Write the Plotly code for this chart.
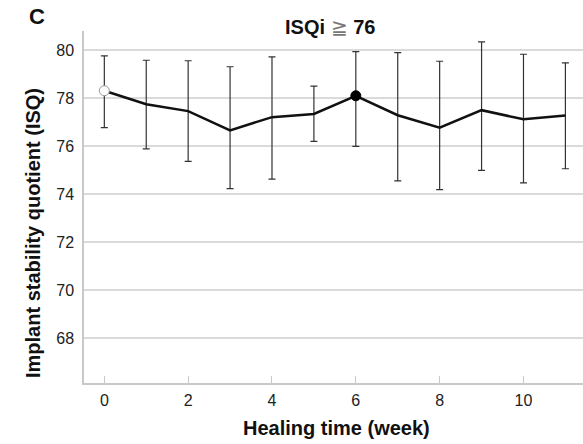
import plotly.graph_objects as go

weeks = [0, 1, 2, 3, 4, 5, 6, 7, 8, 9, 10, 11]
isq_mean = [78.31, 77.75, 77.46, 76.66, 77.21, 77.34, 78.10, 77.29, 76.77, 77.50, 77.12, 77.28]
isq_upper = [79.76, 79.58, 79.56, 79.31, 79.72, 78.50, 79.94, 79.90, 79.54, 80.35, 79.83, 79.47]
isq_lower = [76.77, 75.89, 75.37, 74.23, 74.63, 76.20, 75.99, 74.55, 74.19, 74.99, 74.47, 75.06]
y_ticks = [68, 70, 72, 74, 76, 78, 80]
x_ticks = [0, 2, 4, 6, 8, 10]

err_plus = [u - m for u, m in zip(isq_upper, isq_mean)]
err_minus = [m - l for m, l in zip(isq_mean, isq_lower)]

FONT = "Liberation Sans, Arial, sans-serif"

W, H = 583, 444
pl, pr, pt, pb = 84, 0, 31, 61
pw, ph = W - pl - pr, H - pt - pb

def px(xp):
    return (xp - pl) / pw

def py(yp):
    return (H - pb - yp) / ph

fig = go.Figure()
fig.add_trace(go.Scatter(
    x=weeks, y=isq_mean, mode="lines",
    line=dict(color="#111111", width=2.5),
    error_y=dict(type="data", symmetric=False, array=err_plus, arrayminus=err_minus,
                 color="#333333", thickness=1.2, width=3.5),
    showlegend=False, hoverinfo="skip"))
fig.add_trace(go.Scatter(
    x=[weeks[0]], y=[isq_mean[0]], mode="markers",
    marker=dict(size=10, color="white", line=dict(color="#999999", width=1)),
    showlegend=False))
fig.add_trace(go.Scatter(
    x=[weeks[6]], y=[isq_mean[6]], mode="markers",
    marker=dict(size=10, color="black", line=dict(color="black", width=1)),
    showlegend=False))

fig.update_layout(
    width=W, height=H,
    margin=dict(l=pl, r=pr, t=pt, b=pb),
    paper_bgcolor="white", plot_bgcolor="white",
    font=dict(family=FONT, size=16, color="#222222"),
    xaxis=dict(range=[-0.485, 11.42], tickvals=x_ticks, showgrid=False,
               zeroline=False, showline=True, linecolor="#c8c8c8", linewidth=1.5,
               ticks="inside", ticklen=7, tickcolor="#c8c8c8", tickwidth=1,
               ticklabelstandoff=2,
               tickfont=dict(size=16, color="#222222")),
    yaxis=dict(range=[66.13, 80.8], tickvals=y_ticks, showgrid=True,
               gridcolor="#dadada", gridwidth=1.5, zeroline=False,
               showline=True, linecolor="#c8c8c8", linewidth=1.5,
               ticks="", ticklabelstandoff=5,
               tickfont=dict(size=16, color="#222222")),
)

fig.add_annotation(text="<b>ISQi </b><span style='color:#777'>≧</span><b> 76</b>",
                   x=px(330), y=py(27), xref="paper", yref="paper", showarrow=False,
                   font=dict(size=20, color="#111111"), xanchor="center", yanchor="middle")
fig.add_annotation(text="<b>C</b>", x=px(37), y=py(17), xref="paper", yref="paper",
                   showarrow=False, font=dict(size=22, color="#111111"),
                   xanchor="center", yanchor="middle")
fig.add_annotation(text="<b>Implant stability quotient (ISQ)</b>", x=px(33), y=py(233),
                   xref="paper", yref="paper", showarrow=False, textangle=-90,
                   font=dict(size=20, color="#111111"), xanchor="center", yanchor="middle")
fig.add_annotation(text="<b>Healing time (week)</b>", x=px(336), y=py(428),
                   xref="paper", yref="paper", showarrow=False,
                   font=dict(size=20, color="#111111"), xanchor="center", yanchor="middle")

fig.write_html("out.html")
